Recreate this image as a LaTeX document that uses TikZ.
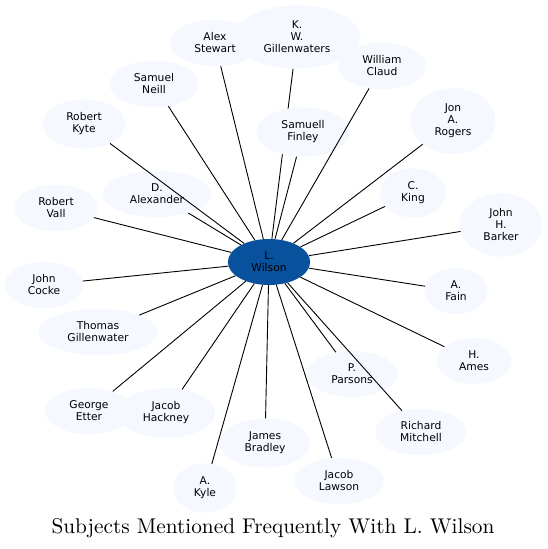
\documentclass[tikz,border=0pt]{standalone}
\usepackage{fontspec}
\newfontfamily\dejavu{DejaVu Sans}
\usetikzlibrary{
  shapes
}
\definecolor{hubblue}{HTML}{08519C}
\definecolor{leafblue}{HTML}{F5F9FF}
\pgfdeclarelayer{background}
\pgfsetlayers{background,main}

\begin{document}
\begin{tikzpicture}[x=1pt, y=-1pt,
  person/.style={ellipse, fill=leafblue, inner xsep=11.5pt, inner ysep=6.3pt,
    align=center, font=\dejavu\fontsize{10.7}{12}\selectfont},
  focus/.style={person, fill=hubblue},
  link/.style={draw=black, line width=0.9pt}]
  \def\Xw{269};
  \def\Yw{262};
        \useasboundingbox (0,0) rectangle (547,549);

        \node[focus] (wilson) at (\Xw, \Yw) {L.\\Wilson};

        % upper half
        \node[person] (stewart) at (215, 43) {Alex\\Stewart};
        \node[person] (kwgill) at (297, 37) {K.\\W.\\Gillenwaters};
        \node[person] (claud) at (382, 66) {William\\Claud};
        \node[person] (neill) at (154, 84) {Samuel\\Neill};
        \node[person] (finley) at (303, 132) {Samuell\\Finley};
        \node[person] (rogers) at (453, 121) {Jon\\A.\\Rogers};
        \node[person] (kyte) at (84, 124) {Robert\\Kyte};
        \node[person] (alexander) at (157, 194) {D.\\Alexander};
        \node[person] (king) at (413, 193) {C.\\King};
        \node[person] (vall) at (56, 208) {Robert\\Vall};
        \node[person] (barker) at (501, 225) {John\\H.\\Barker};

        % lower half
        \node[person] (cocke) at (44, 285) {John\\Cocke};
        \node[person] (fain) at (456, 291) {A.\\Fain};
        \node[person] (tgill) at (98, 332) {Thomas\\Gillenwater};
        \node[person] (ames) at (474, 361) {H.\\Ames};
        \node[person] (parsons) at (352, 374) {P.\\Parsons};
        \node[person] (etter) at (89, 411) {George\\Etter};
        \node[person] (hackney) at (166, 413) {Jacob\\Hackney};
        \node[person] (mitchell) at (421, 432) {Richard\\Mitchell};
        \node[person] (bradley) at (265, 443) {James\\Bradley};
        \node[person] (lawson) at (339, 481) {Jacob\\Lawson};
        \node[person] (akyle) at (205, 488) {A.\\Kyle};

        % white sheet, and the one edge that runs under Samuell Finley
        \begin{pgfonlayer}{background}
        \fill[white] (0,0) rectangle (547,549);
        \draw[link] (kwgill) -- (wilson);
        \end{pgfonlayer}

	\draw[link] (wilson) -- (stewart);
	\draw[link] (wilson) -- (claud);
	\draw[link] (wilson) -- (neill);
	\draw[link] (wilson) -- (finley);
	\draw[link] (wilson) -- (rogers);
	\draw[link] (wilson) -- (kyte);
	\draw[link] (wilson) -- (alexander);
	\draw[link] (wilson) -- (king);
	\draw[link] (wilson) -- (vall);
	\draw[link] (wilson) -- (barker);
	\draw[link] (wilson) -- (cocke);
	\draw[link] (wilson) -- (fain);
	\draw[link] (wilson) -- (tgill);
	\draw[link] (wilson) -- (ames);
	\draw[link] (wilson) -- (parsons);
	\draw[link] (wilson) -- (etter);
	\draw[link] (wilson) -- (hackney);
	\draw[link] (wilson) -- (mitchell);
	\draw[link] (wilson) -- (bradley);
	\draw[link] (wilson) -- (lawson);
	\draw[link] (wilson) -- (akyle);

        \node[anchor=base, scale=2.13, font=\fontsize{10}{12}\selectfont] (title) at (273, 533)
          {Subjects Mentioned Frequently With L. Wilson};

\end{tikzpicture}
\end{document}
